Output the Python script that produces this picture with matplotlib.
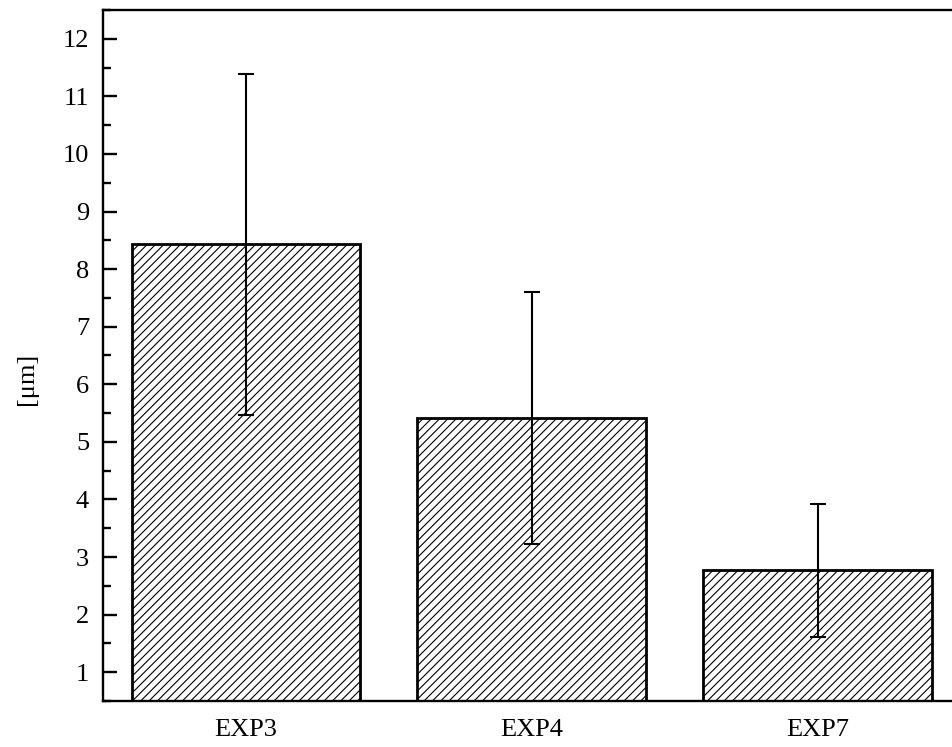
import numpy as np
import matplotlib
matplotlib.use("Agg")
import matplotlib.pyplot as plt
from matplotlib.ticker import MultipleLocator

plt.rcParams['font.family'] = ['Liberation Serif', 'DejaVu Serif']
plt.rcParams['hatch.linewidth'] = 0.8

categories = ["EXP3", "EXP4", "EXP7"]
means = [8.43, 5.42, 2.77]
errors = [2.96, 2.19, 1.155]


def main():
    fig = plt.figure(figsize=(9.52, 7.47), dpi=100)
    ax = fig.add_axes([0.1082, 0.0616, 0.9008, 0.925])

    x = np.arange(len(categories))
    ax.bar(x, means, width=0.8, color='white', edgecolor='black',
           linewidth=2, hatch='////', zorder=2)
    ax.errorbar(x, means, yerr=errors, fmt='none', ecolor='black',
                elinewidth=1.5, capsize=5.5, capthick=1.5, zorder=3)

    ax.set_xlim(-0.5, 2.5)
    ax.set_ylim(0.5, 12.5)
    ax.set_xticks(x)
    ax.set_xticklabels(categories)
    ax.yaxis.set_major_locator(MultipleLocator(1))
    ax.yaxis.set_minor_locator(MultipleLocator(0.5))

    ax.tick_params(axis='y', which='major', direction='in', length=10,
                   width=1.7, labelsize=19, pad=10)
    ax.tick_params(axis='y', which='minor', direction='in', length=5.5,
                   width=1.7)
    ax.tick_params(axis='x', which='both', length=0, labelsize=19, pad=13)
    ax.tick_params(right=False, top=False)

    for s in ax.spines.values():
        s.set_linewidth(1.7)

    # y label sits a bit below the axes centre in the reference
    fig.text(27 / 952, 1 - 379 / 747, "[μm]", rotation=90,
             ha='center', va='center', fontsize=19)

    fig.savefig("out.png", dpi=100)
    plt.close(fig)


if __name__ == "__main__":
    main()
